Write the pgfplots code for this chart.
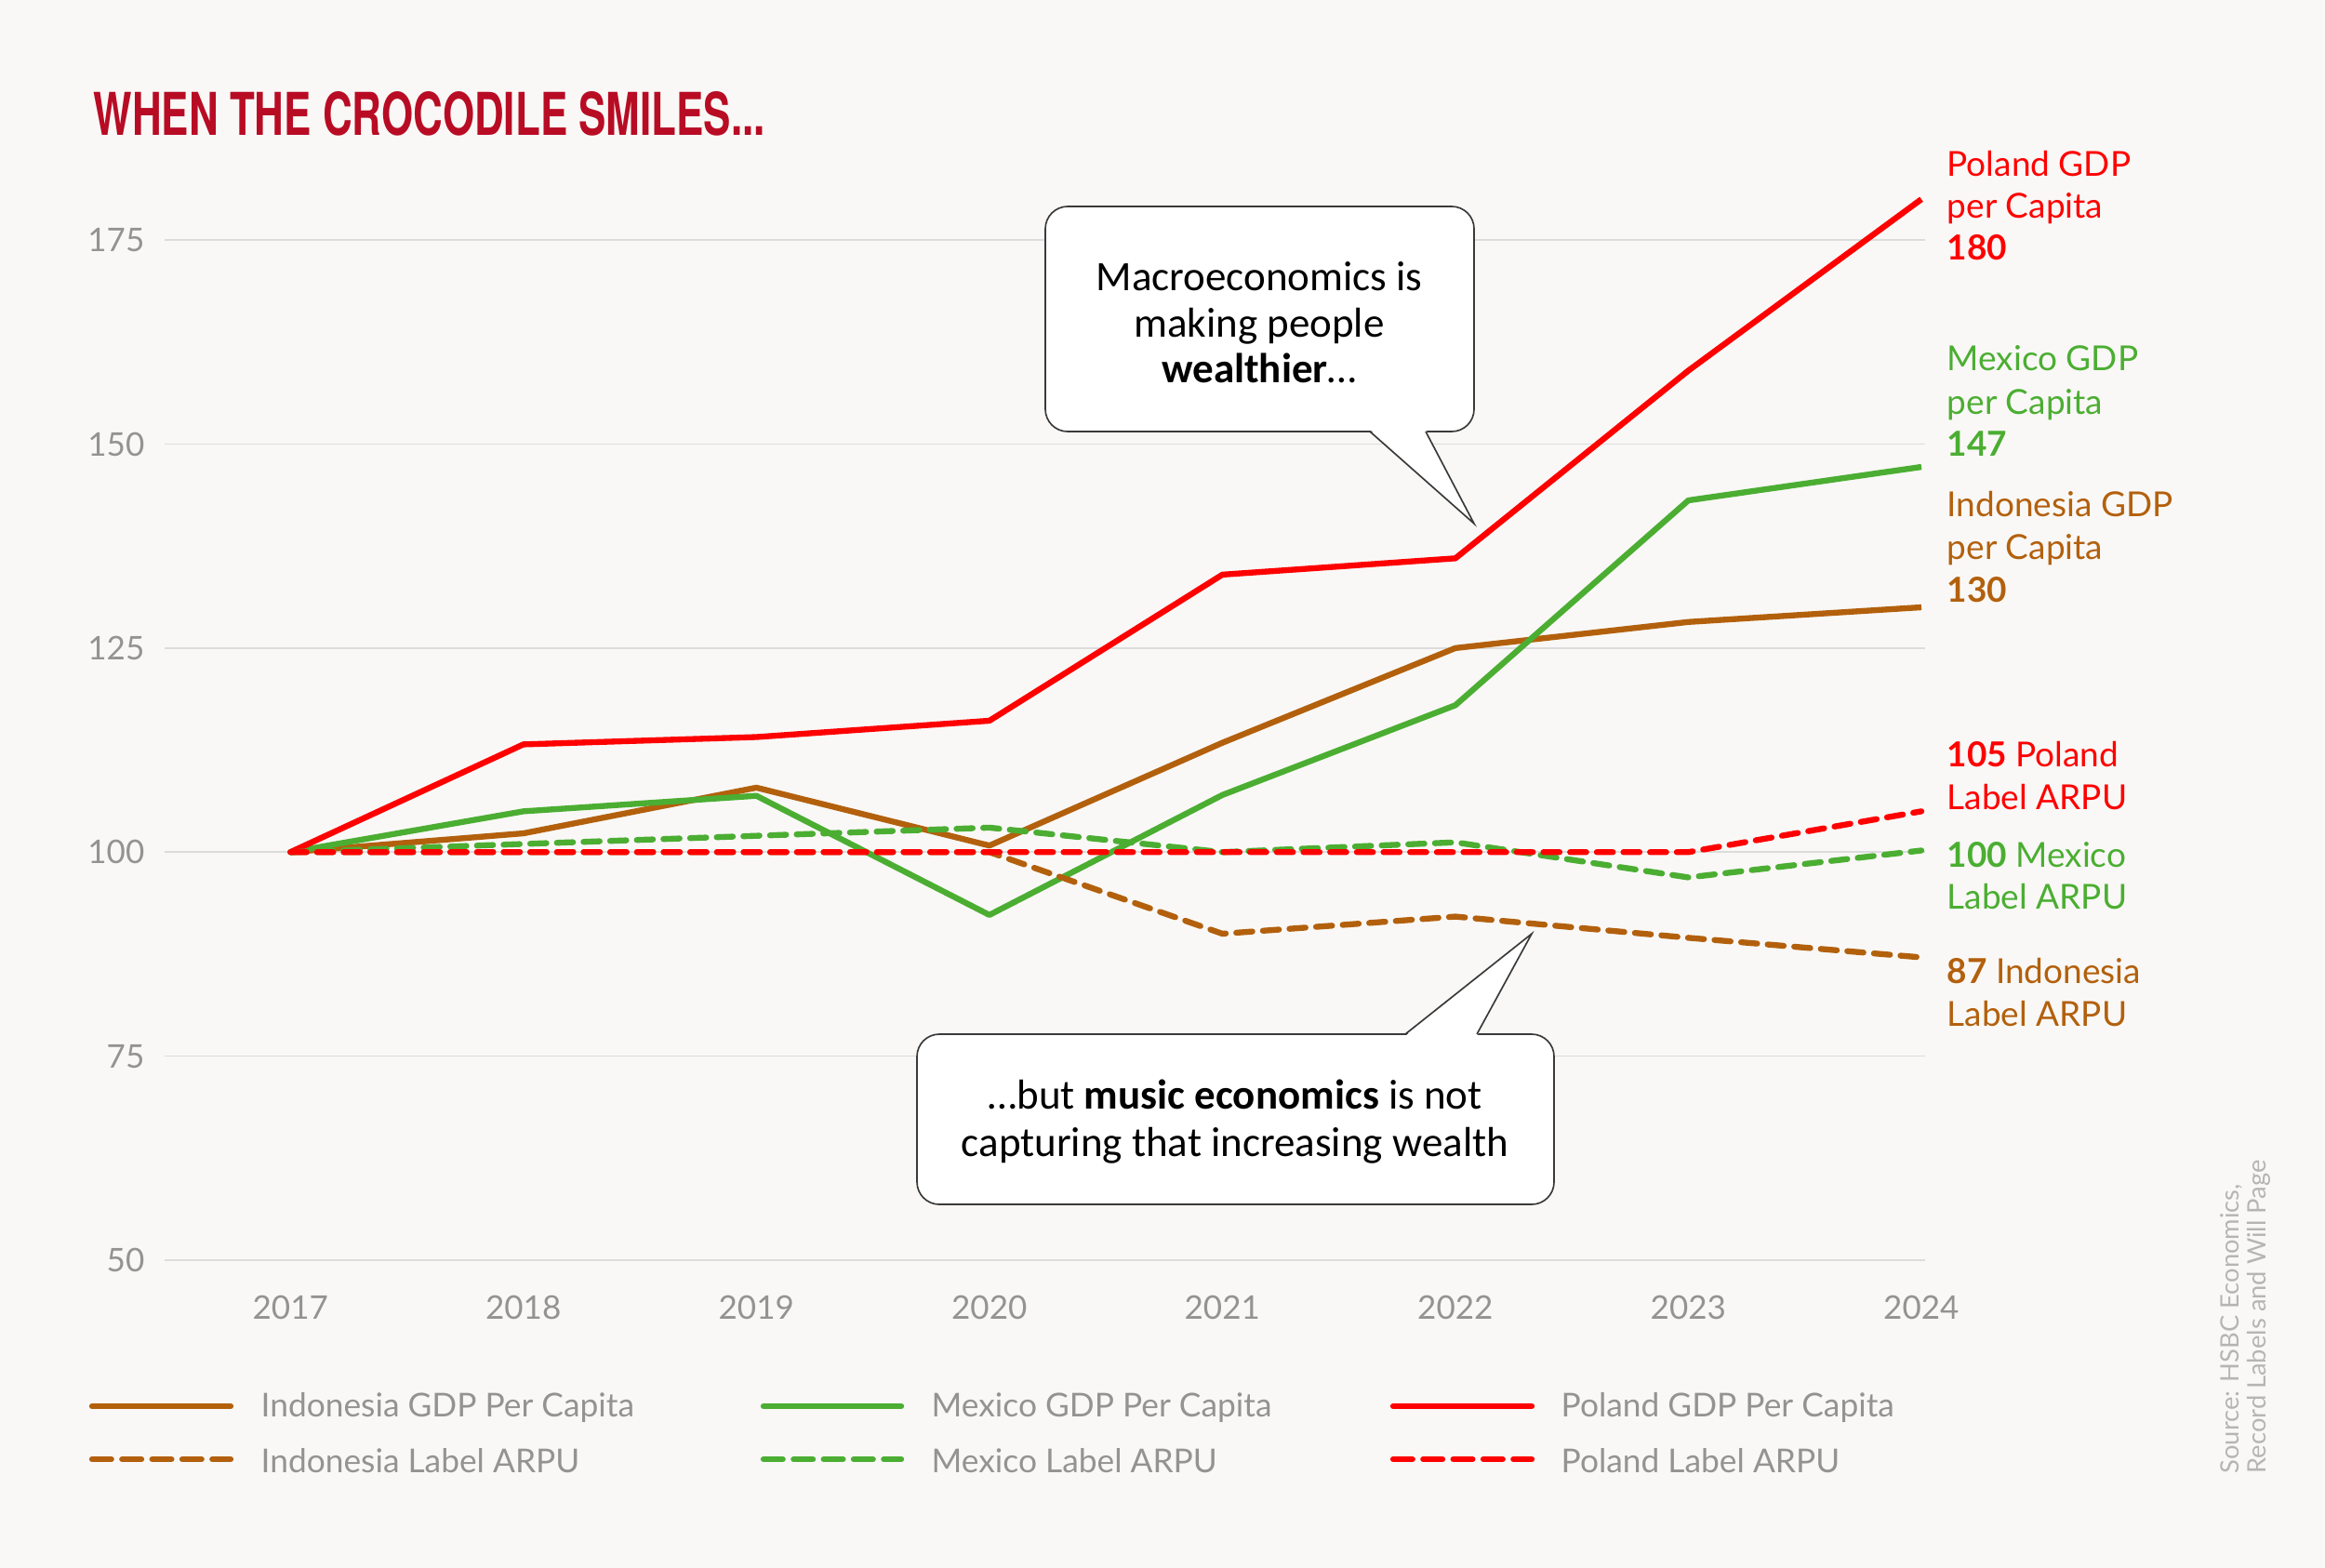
\documentclass[border=0pt]{standalone}
\usepackage{pgfplots}
\pgfplotsset{compat=1.18}
\usepackage{fontspec}
\setmainfont{Lato}
\newfontfamily\callfont{Carlito}
\newfontfamily\titlefont{TeX Gyre Heros}
\definecolor{bgc}{HTML}{F9F8F6}
\definecolor{redc}{HTML}{FF0000}
\definecolor{greenc}{HTML}{4BAE32}
\definecolor{brownc}{HTML}{B3600D}
\definecolor{ttlc}{HTML}{B80C24}
\definecolor{tickc}{HTML}{939393}
\definecolor{gridc}{HTML}{DCDCDC}
\definecolor{srcc}{HTML}{B5B5B5}
\definecolor{boxc}{HTML}{3A3A3A}
\newcommand\lblf{\fontsize{11.1}{13.5}\selectfont}
\newcommand\legf{\fontsize{10.6}{12}\selectfont}
\newcommand\calf{\callfont\fontsize{13.5}{15}\selectfont}
\begin{document}
\begin{tikzpicture}
\fill[bgc] (0,0) rectangle (750pt,-505.8pt);
\begin{axis}[
  at={(53.1pt,-406.5pt)}, anchor=south west,
  scale only axis, width=567.9pt, height=355.4pt,
  xmin=2016.46, xmax=2024.016, ymin=50, ymax=185,
  xtick={2017,...,2024}, ytick={50,75,...,175},
  axis line style={draw=none}, major tick length=0pt,
  ymajorgrids, grid style={color=gridc, line width=0.5pt},
  /pgf/number format/assume math mode=true,
  /pgf/number format/1000 sep={},
  ticklabel style={font=\fontsize{10.5}{12}\selectfont, text=tickc},
  yticklabel style={anchor=east, inner sep=0pt, xshift=-6.3pt},
  xticklabel style={anchor=north, inner sep=0pt, yshift=-11.1pt},
  clip=false,
  every axis plot/.append style={line width=1.9pt, line join=round},
]
\addplot[brownc] coordinates {(2017,100)(2018,102.3)(2019,107.9)(2020,100.8)(2021,113.4)(2022,125)(2023,128.2)(2024,130)};
\addplot[greenc] coordinates {(2017,100)(2018,105.0)(2019,106.9)(2020,92.3)(2021,107.0)(2022,118.0)(2023,143.1)(2024,147.2)};
\addplot[redc] coordinates {(2017,100)(2018,113.2)(2019,114.1)(2020,116.1)(2021,134.0)(2022,136.0)(2023,159.0)(2024,180)};
\addplot[brownc, line cap=round, dash pattern=on 5.2pt off 3.4pt] coordinates {(2017,100)(2018,100)(2019,100)(2020,100)(2021,90)(2022,92.1)(2023,89.5)(2024,87.1)};
\addplot[greenc, line cap=round, dash pattern=on 5.2pt off 3.4pt] coordinates {(2017,100)(2018,101)(2019,102)(2020,103)(2021,100)(2022,101.2)(2023,96.9)(2024,100.2)};
\addplot[redc, line cap=round, dash pattern=on 5.2pt off 3.4pt] coordinates {(2017,100)(2018,100)(2019,100)(2020,100)(2021,100)(2022,100)(2023,100)(2024,105)};
\end{axis}
\begin{scope}[x=0.3pt, y=-0.3pt]
% title
\node[anchor=north west, inner sep=0pt, text=ttlc] at (100,98) {\resizebox{216.6pt}{14.1pt}{\titlefont\bfseries WHEN THE CROCODILE SMILES...}};
% right labels
\node[anchor=base west, inner sep=0pt, text=redc, font=\lblf] at (2093,189) {Poland GDP};
\node[anchor=base west, inner sep=0pt, text=redc, font=\lblf] at (2093,234) {per Capita};
\node[anchor=base west, inner sep=0pt, text=redc, font=\lblf] at (2093,279) {\textbf{180}};
\node[anchor=base west, inner sep=0pt, text=greenc, font=\lblf] at (2093,398) {Mexico GDP};
\node[anchor=base west, inner sep=0pt, text=greenc, font=\lblf] at (2093,445) {per Capita};
\node[anchor=base west, inner sep=0pt, text=greenc, font=\lblf] at (2093,490) {\textbf{147}};
\node[anchor=base west, inner sep=0pt, text=brownc, font=\lblf] at (2093,555) {Indonesia GDP};
\node[anchor=base west, inner sep=0pt, text=brownc, font=\lblf] at (2093,601) {per Capita};
\node[anchor=base west, inner sep=0pt, text=brownc, font=\lblf] at (2093,647) {\textbf{130}};
\node[anchor=base west, inner sep=0pt, text=redc, font=\lblf] at (2093,824) {\textbf{105} Poland};
\node[anchor=base west, inner sep=0pt, text=redc, font=\lblf] at (2093,870) {Label ARPU};
\node[anchor=base west, inner sep=0pt, text=greenc, font=\lblf] at (2093,932) {\textbf{100} Mexico};
\node[anchor=base west, inner sep=0pt, text=greenc, font=\lblf] at (2093,977) {Label ARPU};
\node[anchor=base west, inner sep=0pt, text=brownc, font=\lblf] at (2093,1057) {\textbf{87} Indonesia};
\node[anchor=base west, inner sep=0pt, text=brownc, font=\lblf] at (2093,1103) {Label ARPU};
% callout 1
\draw[fill=white, draw=boxc, line width=0.5pt, rounded corners=7.2pt] (1124,222) rectangle (1585,464);
\fill[white] (1473,462) -- (1585,563) -- (1533,462) -- cycle;
\draw[boxc, line width=0.5pt, line join=miter] (1473,464) -- (1585,563) -- (1533,464);
\node[anchor=base, inner sep=0pt, font=\calf] at (1354,312) {Macroeconomics is};
\node[anchor=base, inner sep=0pt, font=\calf] at (1354,362) {making people};
\node[anchor=base, inner sep=0pt, font=\calf] at (1354,411) {\textbf{wealthier}…};
% callout 2
\draw[fill=white, draw=boxc, line width=0.5pt, rounded corners=7.2pt] (986,1112) rectangle (1671,1295);
\fill[white] (1511,1114) -- (1647,1004) -- (1588,1114) -- cycle;
\draw[boxc, line width=0.5pt, line join=miter] (1511,1112) -- (1647,1004) -- (1588,1112);
\node[anchor=base, inner sep=0pt, font=\calf] at (1328,1192) {…but \textbf{music economics} is not};
\node[anchor=base, inner sep=0pt, font=\calf] at (1328,1243) {capturing that increasing wealth};
% legend
\draw[brownc, line width=1.9pt, line cap=round] (99,1512) -- (248,1512);
\draw[brownc, line width=1.9pt, line cap=round, dash pattern=on 6.2pt off 3.5pt] (99,1569) -- (248,1569);
\draw[greenc, line width=1.9pt, line cap=round] (821,1512) -- (969,1512);
\draw[greenc, line width=1.9pt, line cap=round, dash pattern=on 6.2pt off 3.5pt] (821,1569) -- (969,1569);
\draw[redc, line width=1.9pt, line cap=round] (1498,1512) -- (1647,1512);
\draw[redc, line width=1.9pt, line cap=round, dash pattern=on 6.2pt off 3.5pt] (1498,1569) -- (1647,1569);
\node[anchor=base west, inner sep=0pt, text=tickc, font=\legf] at (280,1523) {Indonesia GDP Per Capita};
\node[anchor=base west, inner sep=0pt, text=tickc, font=\legf] at (280,1583) {Indonesia Label ARPU};
\node[anchor=base west, inner sep=0pt, text=tickc, font=\legf] at (1001,1523) {Mexico GDP Per Capita};
\node[anchor=base west, inner sep=0pt, text=tickc, font=\legf] at (1001,1583) {Mexico Label ARPU};
\node[anchor=base west, inner sep=0pt, text=tickc, font=\legf] at (1678,1523) {Poland GDP Per Capita};
\node[anchor=base west, inner sep=0pt, text=tickc, font=\legf] at (1678,1583) {Poland Label ARPU};
% source
\node[rotate=90, anchor=base west, inner sep=0pt, text=srcc, font=\fontsize{8.2}{9}\selectfont] at (2407,1585) {Source: HSBC Economics,};
\node[rotate=90, anchor=base west, inner sep=0pt, text=srcc, font=\fontsize{8.2}{9}\selectfont] at (2436,1585) {Record Labels and Will Page};
\end{scope}
\end{tikzpicture}
\end{document}
